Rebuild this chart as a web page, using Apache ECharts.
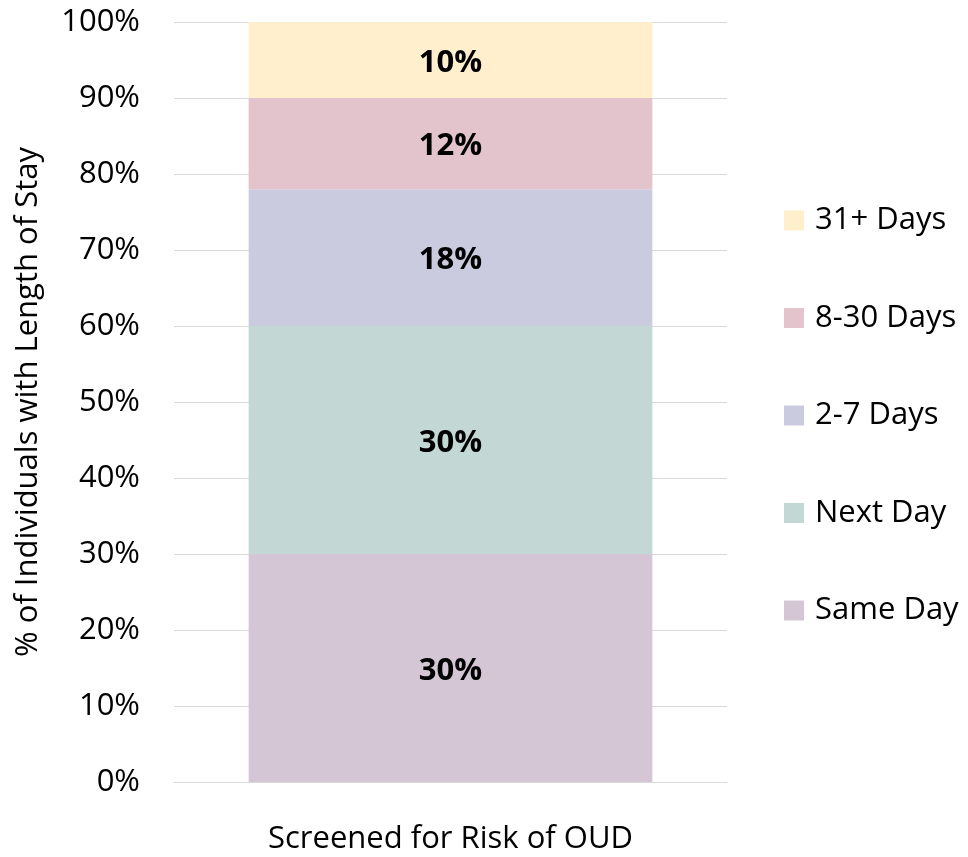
<!DOCTYPE html>
<html><head><meta charset="utf-8">
<script src="https://cdn.jsdelivr.net/npm/echarts@6/dist/echarts.min.js"></script>
<style>html,body{margin:0;padding:0;background:#fff}#c{width:968px;height:857px}</style>
</head><body><div id="c"></div>
<script>
const categories = ['Screened for Risk of OUD'];
const seriesNames = ['Same Day', 'Next Day', '2-7 Days', '8-30 Days', '31+ Days'];
const sameDay = [30];
const nextDay = [30];
const days2to7 = [18];
const days8to30 = [12];
const days31plus = [10];
const colors = ['#D5C6D6', '#C3D7D4', '#CBCBDF', '#E3C4CD', '#FFEFCD'];
const values = [sameDay, nextDay, days2to7, days8to30, days31plus];
const FONT = 'Open Sans';
const FS = 31;

const chart = echarts.init(document.getElementById('c'));
chart.setOption({
  animation: false,
  textStyle: {fontFamily: FONT},
  grid: {left: 174, right: 241, top: 22, bottom: 75},
  legend: {
    orient: 'vertical', left: 779, top: 200,
    data: seriesNames.slice().reverse(),
    itemWidth: 20, itemHeight: 20, itemGap: 66.5,
    icon: 'rect',
    textStyle: {fontFamily: FONT, fontSize: FS, color: '#000', lineHeight: 31, padding: [0,0,0,6]}
  },
  xAxis: {
    type: 'category', data: categories,
    axisLine: {show: true, lineStyle: {color: '#D9D9D9', width: 1}},
    axisTick: {show: false},
    axisLabel: {fontSize: FS, color: '#000', margin: 42, fontFamily: FONT}
  },
  yAxis: {
    type: 'value', min: 0, max: 100, interval: 10,
    name: '% of Individuals with Length of Stay',
    nameLocation: 'middle', nameGap: 130,
    nameTextStyle: {fontSize: FS, color: '#000', fontFamily: FONT},
    axisLabel: {formatter: '{value}%', fontSize: FS, color: '#000', margin: 34, fontFamily: FONT},
    axisLine: {show: false}, axisTick: {show: false},
    splitLine: {lineStyle: {color: '#D9D9D9', width: 1}}
  },
  series: seriesNames.map((n, i) => ({
    name: n, type: 'bar', stack: 'total', barWidth: '73%',
    data: values[i],
    itemStyle: {color: colors[i]},
    label: {show: true, position: 'inside', offset: [0, 3], formatter: '{c}%', fontSize: FS, fontWeight: 'bold', color: '#000', fontFamily: FONT}
  }))
});
</script></body></html>
